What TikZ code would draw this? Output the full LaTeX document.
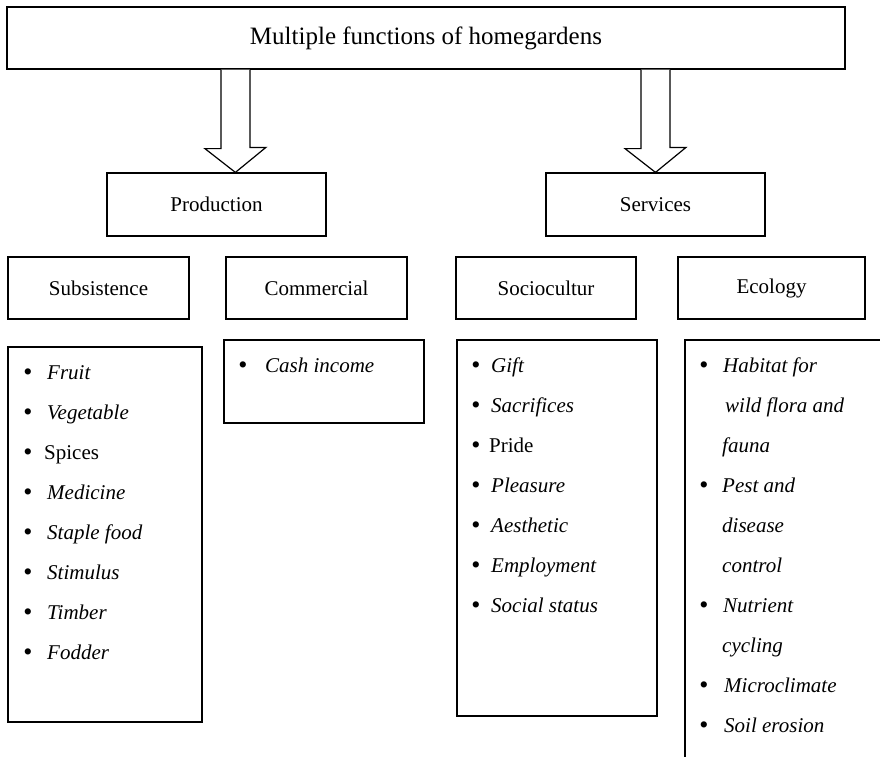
\documentclass[tikz,border=0pt]{standalone}
\usepackage{fontspec}
\setmainfont{Liberation Serif}
\usetikzlibrary{calc}
\tikzset{
  box/.style={draw, line width=1.2pt, rectangle, inner sep=0pt, align=center,
     font=\fontsize{21}{25}\selectfont},
  listbox/.style={draw, line width=1.2pt, rectangle, inner sep=0pt},
  item/.style={anchor=base west, inner sep=0pt, font=\fontsize{21}{25}\selectfont\itshape},
  itemup/.style={anchor=base west, inner sep=0pt, font=\fontsize{21}{25}\selectfont},
  bul/.style={anchor=base, inner sep=0pt, yshift=-1.5pt, font=\fontsize{26}{30}\selectfont},
  blk/.style={draw, line width=1.2pt, fill=white, line join=miter}
}
\begin{document}
\begin{tikzpicture}[x=1pt,y=-1pt]
\useasboundingbox (0,0) rectangle (880,756);
% main boxes
\node[box, minimum width=838pt, minimum height=62pt, font=\fontsize{25}{29}\selectfont] (top) at (426,38) {Multiple functions of homegardens};
\node[box, minimum width=219pt, minimum height=63pt] (prod) at (216.5,204.5) {Production};
\node[box, minimum width=219pt, minimum height=63pt] (serv) at (655.5,204.5) {Services};
\node[box, minimum width=181pt, minimum height=62pt] (subs) at (98.5,288) {Subsistence};
\node[box, minimum width=181pt, minimum height=62pt] (comm) at (316.5,288) {Commercial};
\node[box, minimum width=180pt, minimum height=62pt] (soc) at (546,288) {Sociocultur};
\node[box, minimum width=187pt, minimum height=62pt] (eco) at (771.5,288) {Ecology};
% list boxes
\node[listbox, minimum width=194pt, minimum height=375pt] (subl) at (105,534.5) {};
\node[listbox, minimum width=200pt, minimum height=83pt] (comml) at (324,381.5) {};
\node[listbox, minimum width=200pt, minimum height=376pt] (socl) at (557,528) {};
\node[listbox, minimum width=220pt, minimum height=440pt] (ecol) at (795,560) {};
% block arrows
\coordinate (ltip) at ($(prod.north west)+(129,0)$);
\coordinate (rtip) at (serv.north);
\foreach \t in {ltip,rtip}{
  \draw[blk] ($(\t |- top.south)+(-14.5,0)$) -- ++(0,79) -- ++(-16,0) -- (\t)
     -- ($(\t)+(30.5,-25)$) -- ++(-16,0) -- ($(\t |- top.south)+(14.5,0)$);
}
% Subsistence items
\foreach \y/\txt/\n in {379/Fruit/1,419/Vegetable/2,499/Medicine/4,539/Staple food/5,579/Stimulus/6,619/Timber/7,659/Fodder/8}{
  \node[bul] (sb\n) at (28,\y) {•};
  \node[item] (st\n) at (47,\y) {\txt};
}
\node[bul] (sb3) at (28,459) {•};
\node[itemup] (st3) at (44,459) {Spices};
% Commercial
\node[bul] (cb1) at (243,372) {•};
\node[item] (ct1) at (265,372) {Cash income};
% Sociocultur
\foreach \y/\txt/\n in {372/Gift/1,412/Sacrifices/2,492/Pleasure/4,532/Aesthetic/5,572/Employment/6,612/Social status/7}{
  \node[bul] (ob\n) at (476,\y) {•};
  \node[item] (ot\n) at (491,\y) {\txt};
}
\node[bul] (ob3) at (476,452) {•};
\node[itemup] (ot3) at (489,452) {Pride};
% Ecology
\node[bul] (eb1) at (704,372) {•};
\node[item] (et1) at (723,372) {Habitat for};
\node[item] (et1b) at (725,412) {wild flora and};
\node[item] (et1c) at (722,452) {fauna};
\node[bul] (eb2) at (704,492) {•};
\node[item] (et2) at (722,492) {Pest and};
\node[item] (et2b) at (722,532) {disease};
\node[item] (et2c) at (722,572) {control};
\node[bul] (eb3) at (704,612) {•};
\node[item] (et3) at (723,612) {Nutrient};
\node[item] (et3b) at (722,652) {cycling};
\node[bul] (eb4) at (704,692) {•};
\node[item] (et4) at (724,692) {Microclimate};
\node[bul] (eb5) at (704,732) {•};
\node[item] (et5) at (724,732) {Soil erosion};
\end{tikzpicture}
\end{document}
